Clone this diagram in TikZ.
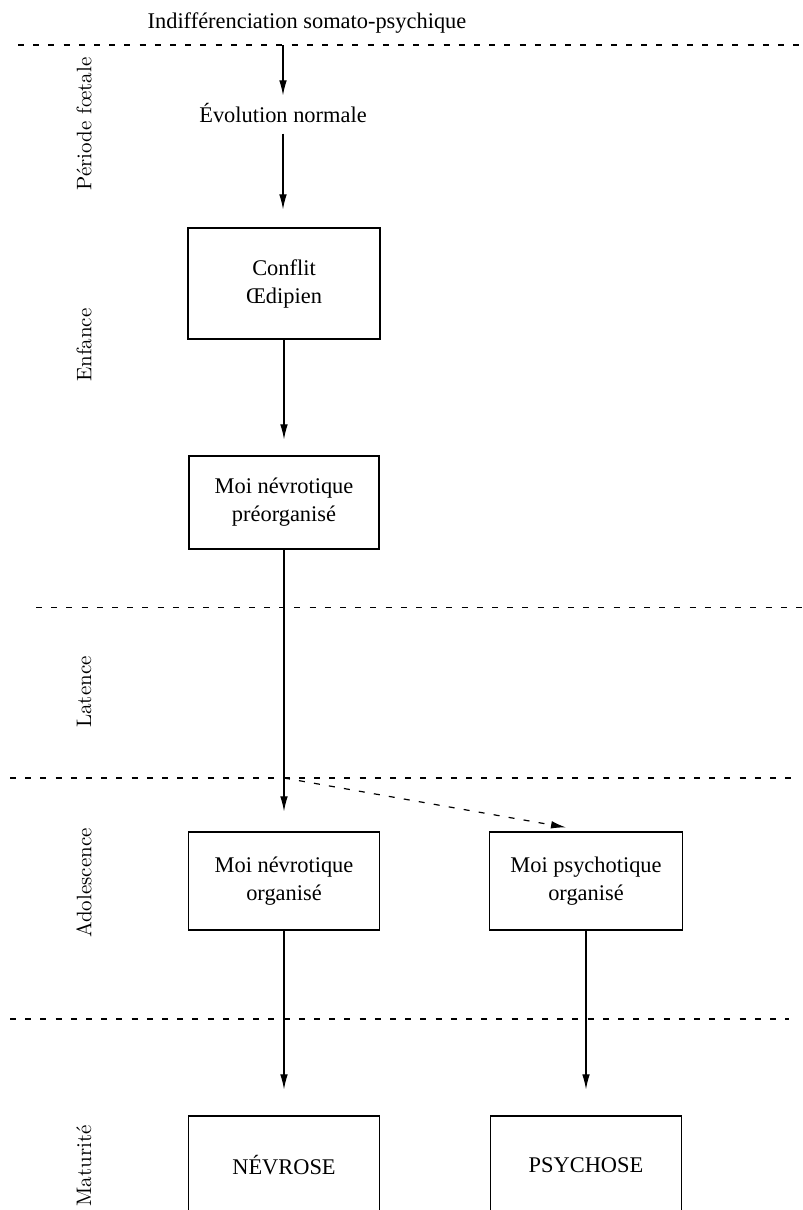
\documentclass[tikz,border=0pt]{standalone}
\usepackage{fontspec}
\newfontfamily\timesfont{Liberation Serif}
\usetikzlibrary{arrows.meta}

\begin{document}
\begin{tikzpicture}[x=0.5pt,y=-0.5pt,
    every node/.style={font=\timesfont\fontsize{11.2}{14}\selectfont},
    stage/.style={draw,line width=0.6pt,align=center,inner sep=0pt},
    period/.style={rotate=90,font=\rmfamily\fontsize{10.5}{12}\selectfont},
    phase/.style={line width=0.6pt,dash pattern=on 3pt off 4.6pt},
    flow/.style={line width=0.55pt,-{Latex[length=7.5pt,width=3.8pt]}}]
    \useasboundingbox (0,0) rectangle (803,1210);

    % Define phase boundaries
    \coordinate (SepAL) at (18,45);    \coordinate (SepAR) at (803,45);
    \coordinate (SepBL) at (36,607.5); \coordinate (SepBR) at (803,607.5);
    \coordinate (SepCL) at (10,778);   \coordinate (SepCR) at (791,778);
    \coordinate (SepDL) at (10,1019);  \coordinate (SepDR) at (789,1019);

    % Draw phase boundaries
    \draw[phase] (SepAL) -- (SepAR);
    \draw[phase] (SepBL) -- (SepBR);
    \draw[phase] (SepCL) -- (SepCR);
    \draw[phase] (SepDL) -- (SepDR);

    % Label periods
    \node[period] (Foetal) at (84,124) {Période fœtale};
    \node[period] (Enfance) at (84,345) {Enfance};
    \node[period] (Latence) at (84,692) {Latence};
    \node[period] (Adolescence) at (84,883) {Adolescence};
    \node[period] (Maturite) at (84,1166) {Maturité};

    % Stages
    \node[anchor=base] (Title) at (307,28.5) {Indifférenciation somato-psychique};
    \node[anchor=base,inner sep=0pt] (Evol) at (283,122) {Évolution normale};
    \node[stage,minimum width=96pt,minimum height=55.5pt] (Conflit) at (284,283.5) {Conflit\\Œdipien};
    \node[stage,minimum width=95pt,minimum height=46.5pt] (PreOrg) at (284,502.5) {Moi névrotique\\préorganisé};
    \node[stage,minimum width=95.5pt,minimum height=49pt] (NevOrg) at (284,881) {Moi névrotique\\organisé};
    \node[stage,minimum width=96.5pt,minimum height=49pt] (PsyOrg) at (586,881) {Moi psychotique\\organisé};
    \node[stage,minimum width=95.5pt,minimum height=49pt] (Nevrose) at (284,1165) {NÉVROSE};
    \node[stage,minimum width=95.5pt,minimum height=49pt] (Psychose) at (586,1165) {PSYCHOSE};

    % Draw evolution arrows
    \coordinate (Top) at (Evol.north |- SepAL);
    \coordinate (Branch) at (PreOrg.south |- SepCL);
    \draw[flow,shorten >=3.5pt] (Top) -- (Evol.north);
    \draw[flow,shorten <=5.5pt,shorten >=9pt] (Evol.south) -- (Evol.south |- Conflit.north);
    \draw[flow,shorten >=8pt] (Conflit) -- (PreOrg);
    \draw[flow,shorten >=10pt] (PreOrg) -- (NevOrg);
    \draw[flow,phase] (Branch) -- ([xshift=-10pt,yshift=2pt]PsyOrg.north);
    \draw[flow,shorten >=13pt] (NevOrg) -- (Nevrose);
    \draw[flow,shorten >=13pt] (PsyOrg) -- (Psychose);
\end{tikzpicture}
\end{document}
